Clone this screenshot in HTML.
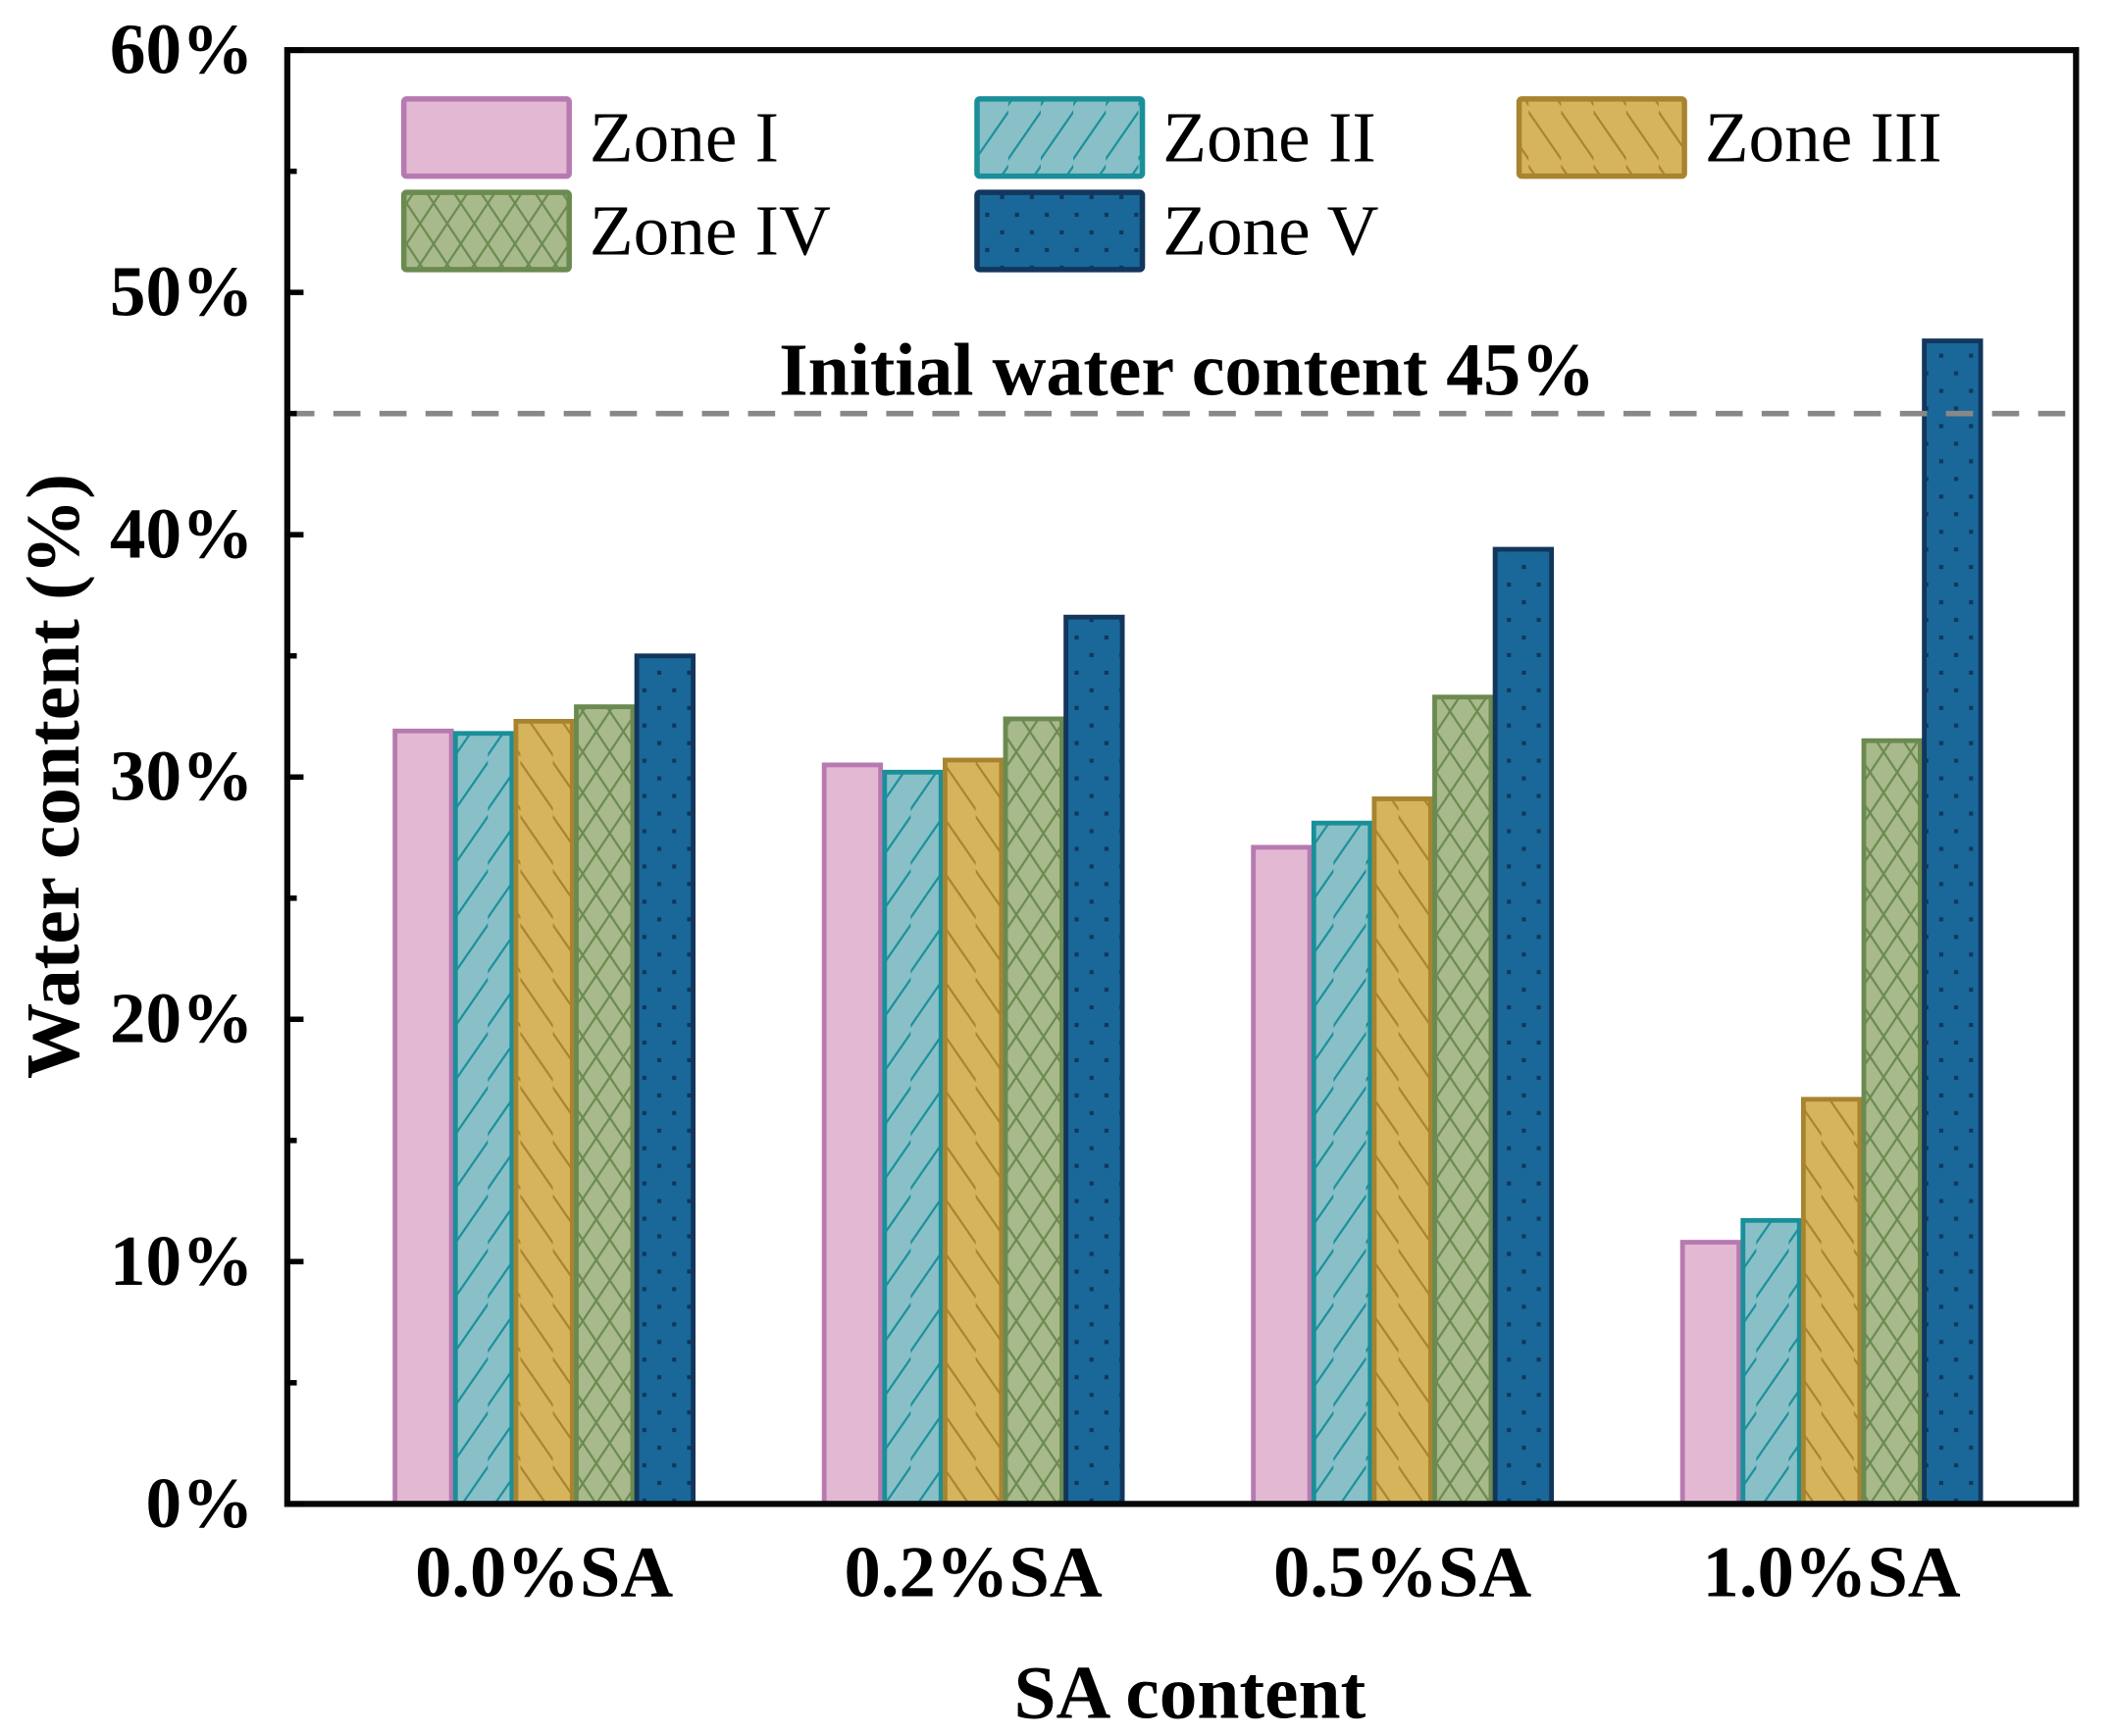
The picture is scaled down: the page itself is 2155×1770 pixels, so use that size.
<!DOCTYPE html>
<html><head><meta charset="utf-8"><style>
html,body{margin:0;padding:0;background:#fff;}
svg{display:block;font-family:"Liberation Serif",serif;}
</style></head><body>
<svg id="chart" width="2155" height="1770" viewBox="0 0 1560 1281.3" preserveAspectRatio="none" xmlns="http://www.w3.org/2000/svg">
<defs>
<pattern id="p1" patternUnits="userSpaceOnUse" width="24" height="40"><rect width="24" height="40" fill="#89c0c8"/><path d="M-6,46 L30,-6" stroke="#1a8f99" stroke-width="1.6" fill="none"/></pattern>
<pattern id="p2" patternUnits="userSpaceOnUse" width="24" height="40"><rect width="24" height="40" fill="#d6b45c"/><path d="M-6,-6 L30,46" stroke="#a88430" stroke-width="1.6" fill="none"/></pattern>
<pattern id="p3" patternUnits="userSpaceOnUse" width="20" height="30"><rect width="20" height="30" fill="#a8b98b"/><path d="M0,0 L20,30 M20,0 L0,30" stroke="#6b8a50" stroke-width="1.6" fill="none"/></pattern>
<pattern id="p4" patternUnits="userSpaceOnUse" width="22" height="26"><rect width="22" height="26" fill="#196899"/><rect x="1" y="1" width="3" height="3" fill="#12365c"/><rect x="12" y="14" width="3" height="3" fill="#12365c"/></pattern>
</defs>
<g id="bars"></g>
<g id="axes"></g>
</svg>
<script>
const categories = ["0.0%SA","0.2%SA","0.5%SA","1.0%SA"];
const zone1 = [31.9, 30.5, 27.1, 10.8];
const zone2 = [31.8, 30.2, 28.1, 11.7];
const zone3 = [32.3, 30.7, 29.1, 16.7];
const zone4 = [32.9, 32.4, 33.3, 31.5];
const zone5 = [35.0, 36.6, 39.4, 48.0];
const seriesNames = ["Zone I","Zone II","Zone III","Zone IV","Zone V"];
const yTicks = [0,10,20,30,40,50,60];
const initialValue = 45;

const NS="http://www.w3.org/2000/svg";
const L=212,R=1532,T=37,B=1110;
const y=v=>B-(v/60)*(B-T);
const gc=i=>401.5+i*316.7;
const bw=44.6;
const fills=["#e3b8d3","url(#p1)","url(#p2)","url(#p3)","url(#p4)"];
const strokes=["#b77ab0","#1a8f99","#a88430","#6b8a50","#12365c"];
const series=[zone1,zone2,zone3,zone4,zone5];
function mk(tag,attrs,parent){const e=document.createElementNS(NS,tag);for(const k in attrs)e.setAttribute(k,attrs[k]);parent.appendChild(e);return e;}
const bars=document.getElementById('bars'), axes=document.getElementById('axes');

series.forEach((vals,s)=>{vals.forEach((v,i)=>{
  const x=gc(i)-2.5*bw+s*bw;
  const r=mk('rect',{x:x+1.5,y:y(v),width:bw-3,height:B-y(v),fill:fills[s],stroke:strokes[s],'stroke-width':3.5},bars);
  
  
});});

const dl=mk('line',{x1:L,x2:R,y1:y(initialValue),y2:y(initialValue),stroke:'#888',"stroke-width":4,"stroke-dasharray":"20 14"},axes);


const it=mk('text',{x:876,y:y(initialValue)-14,"text-anchor":"middle","font-size":55,"font-weight":"bold"},axes);
it.textContent="Initial water content 45%";



const fr=mk('rect',{x:L,y:T,width:R-L,height:B-T,fill:"none",stroke:"#060809","stroke-width":4.5},axes);



yTicks.forEach(t=>{
  mk('line',{x1:L,x2:L+12,y1:y(t),y2:y(t),stroke:'#000','stroke-width':4},axes);
  if(t<60) mk('line',{x1:L,x2:L+7,y1:y(t+5),y2:y(t+5),stroke:'#000','stroke-width':4},axes);
  const tx=mk('text',{x:187,y:y(t)+17,"text-anchor":"end","font-size":53,"font-weight":"bold"},axes);
  tx.textContent=t+"%";
  
  
});
categories.forEach((c,i)=>{
  const tx=mk('text',{x:gc(i),y:1178,"text-anchor":"middle","font-size":54,"font-weight":"bold"},axes);
  tx.textContent=c;
  
  
});
const xt=mk('text',{x:878,y:1268,"text-anchor":"middle","font-size":56,"font-weight":"bold"},axes);
xt.textContent="SA content";


const yt=mk('text',{x:0,y:0,"text-anchor":"middle","font-size":56,"font-weight":"bold",transform:"translate(58,573) rotate(-90)"},axes);
yt.textContent="Water content (%)";



const lx=[296,719,1119,296,719], ly=[71,71,71,140,140];
seriesNames.forEach((n,s)=>{
  const g=mk('g',{},axes);
  
  
  mk('rect',{x:lx[s]+2,y:ly[s]+2,width:122,height:57,fill:fills[s],stroke:strokes[s],'stroke-width':4,rx:2},g);
  const tx=mk('text',{x:lx[s]+139,y:ly[s]+48,"font-size":53},g);
  tx.textContent=n;
});
</script>
</body></html>
